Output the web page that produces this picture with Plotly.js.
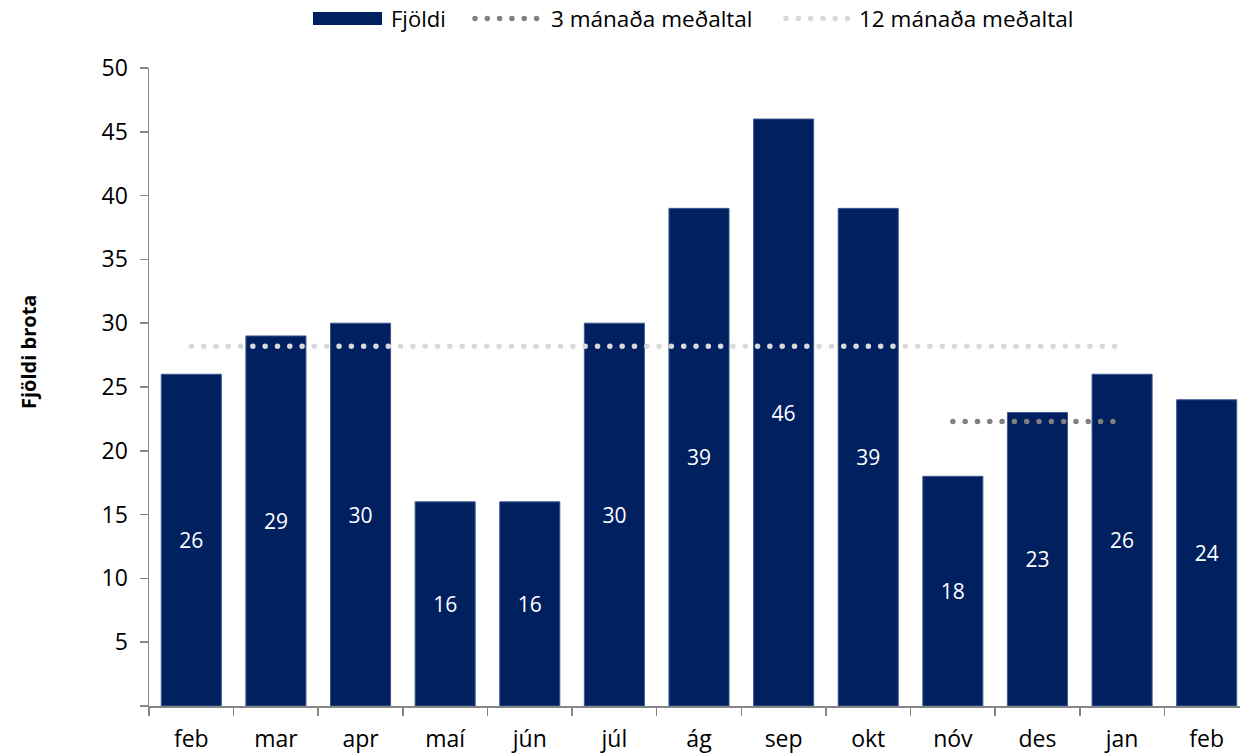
<!DOCTYPE html>
<html>
<head>
<meta charset="utf-8">
<script src="https://cdn.plot.ly/plotly-3.0.1.min.js"></script>
<style>html,body{margin:0;padding:0;background:#fff;overflow:hidden}#chart{width:1249px;height:755px}</style>
</head>
<body>
<div id="chart"></div>
<script>
// ---- data ----
const months = ["feb","mar","apr","maí","jún","júl","ág","sep","okt","nóv","des","jan","feb"];
const fjoldi = [26,29,30,16,16,30,39,46,39,18,23,26,24];
const avg3Months = ["nóv","des","jan"];
const avg3Index = [9,10,11];
const avg3 = [22.3,22.3,22.3];
const avg12Index = [0,1,2,3,4,5,6,7,8,9,10,11];
const avg12 = [28.2,28.2,28.2,28.2,28.2,28.2,28.2,28.2,28.2,28.2,28.2,28.2];
const yTicks = [0,5,10,15,20,25,30,35,40,45,50];
const yTickText = ["","5","10","15","20","25","30","35","40","45","50"];
const legendNames = ["Fjöldi","3 mánaða meðaltal","12 mánaða meðaltal"];

// ---- styles ----
const NAVY = "#002060", DARKDOT = "#808080", LIGHTDOT = "#d9d9d9", AXIS = "#868686";
const FONT = "Open Sans, sans-serif";
const idx = months.map((m,i)=>i);
const boundaries = months.map((m,i)=>i-0.5).concat([months.length-0.5]);

// plot area in pixels (the right edge runs just past the 1240px window)
const W = 1249, H = 755;
const L=149, R=1249, T=68, B=706;
const px = x => (x-L)/(R-L);
const py = y => (B-y)/(B-T);

const traces = [
  {
    type:"bar", x:idx, y:fjoldi, name:legendNames[0],
    marker:{color:NAVY, line:{color:"#3d5a8f", width:1}},
    texttemplate:"%{y}", textposition:"inside", insidetextanchor:"middle",
    textangle:0, constraintext:"none",
    textfont:{family:FONT, size:21, color:"#ffffff"},
    hoverinfo:"x+y", showlegend:false
  },
  {
    type:"scatter", mode:"lines", x:avg12Index, y:avg12, name:legendNames[2],
    line:{color:LIGHTDOT, width:5.5, dash:"dot"}, showlegend:false
  },
  {
    type:"scatter", mode:"lines", x:avg3Index, y:avg3, name:legendNames[1],
    line:{color:DARKDOT, width:5.5, dash:"dot"}, showlegend:false
  }
];

const ly = 18.5;
const shapes = [
  {type:"rect", xref:"paper", yref:"paper", x0:px(313), x1:px(382), y0:py(ly+6.5), y1:py(ly-6.5),
   fillcolor:NAVY, line:{width:0}},
  {type:"line", xref:"paper", yref:"paper", x0:px(475), x1:px(538), y0:py(ly), y1:py(ly),
   line:{color:DARKDOT, width:5.5, dash:"dot"}},
  {type:"line", xref:"paper", yref:"paper", x0:px(786), x1:px(849), y0:py(ly), y1:py(ly),
   line:{color:LIGHTDOT, width:5.5, dash:"dot"}}
];
const annotations = [
  {xref:"paper", yref:"paper", x:px(389), y:py(ly), xanchor:"left", yanchor:"middle",
   text:legendNames[0], showarrow:false, font:{family:FONT, size:22, color:"#000"}},
  {xref:"paper", yref:"paper", x:px(549), y:py(ly), xanchor:"left", yanchor:"middle",
   text:legendNames[1], showarrow:false, font:{family:FONT, size:22.5, color:"#000"}},
  {xref:"paper", yref:"paper", x:px(857), y:py(ly), xanchor:"left", yanchor:"middle",
   text:legendNames[2], showarrow:false, font:{family:FONT, size:22.5, color:"#000"}},
  {xref:"paper", yref:"paper", x:px(28), y:py(352), xanchor:"center", yanchor:"middle",
   text:"<b>Fjöldi brota</b>", textangle:-90, showarrow:false,
   font:{family:FONT, size:20, color:"#000"}}
];

const layout = {
  width:W, height:H,
  margin:{l:L, r:W-R, t:T, b:H-B},
  paper_bgcolor:"#fff", plot_bgcolor:"#fff",
  font:{family:FONT, color:"#000"},
  bargap:0.29,
  showlegend:false,
  xaxis:{
    range:[-0.5, months.length-0.5], tickmode:"array", tickvals:idx, ticktext:months,
    ticks:"", showgrid:false, zeroline:false, showline:true, linecolor:AXIS, linewidth:1.5,
    tickfont:{family:FONT, size:23, color:"#000"}, ticklabelstandoff:12,
    minor:{tickmode:"array", tickvals:boundaries, ticks:"outside", ticklen:8, tickwidth:1.5, tickcolor:AXIS, showgrid:false},
    fixedrange:true
  },
  yaxis:{
    range:[0,50], tickmode:"array", tickvals:yTicks, ticktext:yTickText,
    ticks:"outside", ticklen:8, tickwidth:1.5, tickcolor:AXIS,
    showgrid:false, zeroline:false, showline:true, linecolor:AXIS, linewidth:1.5,
    tickfont:{family:FONT, size:23, color:"#000"}, ticklabelstandoff:7,
    fixedrange:true
  },
  shapes:shapes,
  annotations:annotations
};

function roundDots(gd){
  // make the dotted lines round dots, like the reference
  const sel = gd.querySelectorAll('.scatterlayer path.js-line, .shapelayer path');
  sel.forEach(p=>{
    const da = p.style.strokeDasharray || p.getAttribute('stroke-dasharray');
    if(da && da !== 'none' && da !== ''){
      p.style.strokeLinecap = 'round';
      p.style.strokeDasharray = '0.01px, 12.3px';
    }
  });
}

Plotly.newPlot("chart", traces, layout, {staticPlot:true, displayModeBar:false})
  .then(gd=>roundDots(gd));
</script>
</body>
</html>
